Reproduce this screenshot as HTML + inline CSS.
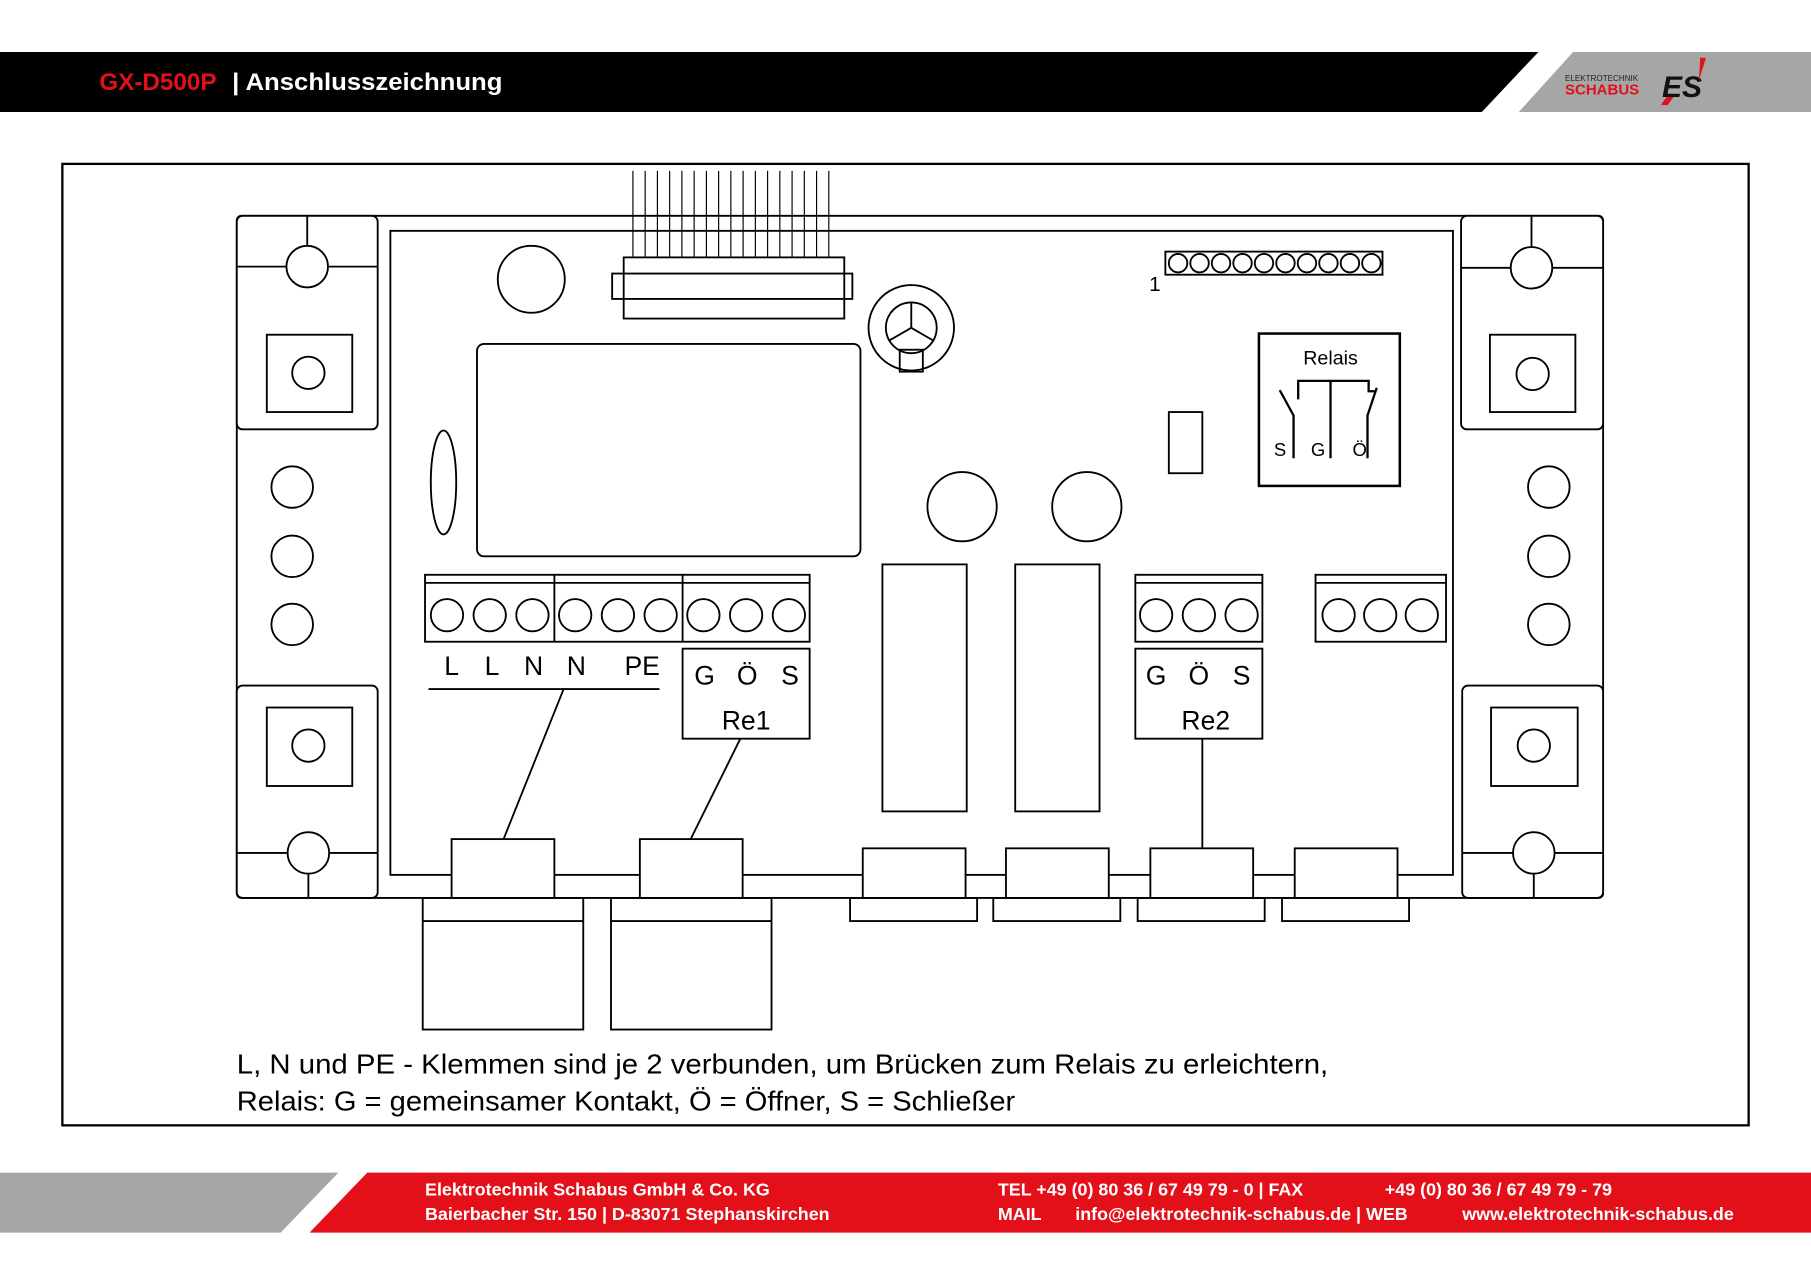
<!DOCTYPE html>
<html><head><meta charset="utf-8"><style>
html,body{margin:0;padding:0;background:#fff}
svg{display:block}
text{font-family:"Liberation Sans",sans-serif}
</style></head><body>
<svg width="1811" height="1280" viewBox="0 0 1568 1109" preserveAspectRatio="none" xmlns="http://www.w3.org/2000/svg">
<polygon points="0,45 1332,45 1283,97 0,97" fill="#000"/>
<polygon points="1362,45 1568,45 1568,97 1315,97" fill="#a6a6a6"/>
<text x="86" y="78" font-size="21" font-weight="bold" fill="#e3101a">GX-D500P</text>
<text x="201" y="78" font-size="21" font-weight="bold" fill="#fff" textLength="234" lengthAdjust="spacingAndGlyphs">| Anschlusszeichnung</text>
<text x="1355" y="70" font-size="7" fill="#222">ELEKTROTECHNIK</text>
<text x="1355" y="82" font-size="13" font-weight="bold" fill="#e3101a">SCHABUS</text>
<text x="1439" y="84" font-size="26" font-weight="bold" fill="#111" font-style="italic">ES</text>
<polygon points="1472,50 1477,50 1471,70" fill="#e3101a"/>
<polygon points="1443,84 1449,84 1444,91 1438,91" fill="#e3101a"/>
<polygon points="0,1016 293,1016 243,1068 0,1068" fill="#a6a6a6"/>
<polygon points="318,1016 1568,1016 1568,1068 268,1068" fill="#e3101a"/>
<g font-size="15.5" font-weight="bold" fill="#fff">
<text x="368" y="1036">Elektrotechnik Schabus GmbH &amp; Co. KG</text>
<text x="368" y="1057">Baierbacher Str. 150 | D-83071 Stephanskirchen</text>
<text x="864" y="1036">TEL  +49 (0) 80 36 / 67 49 79 - 0 | FAX</text>
<text x="1199" y="1036">+49 (0) 80 36 / 67 49 79 - 79</text>
<text x="864" y="1057">MAIL</text>
<text x="931" y="1057">info@elektrotechnik-schabus.de | WEB</text>
<text x="1266" y="1057">www.elektrotechnik-schabus.de</text>
</g>
<rect x="54" y="142" width="1460" height="833" fill="none" stroke="#000" stroke-width="2"/>
<g fill="none" stroke="#000" stroke-width="1.6">
<rect x="205" y="187" width="1183" height="591" rx="4"/>
<rect x="338" y="200" width="920" height="558" fill="#fff"/>
<rect x="205" y="187" width="122" height="185" rx="5" fill="#fff"/>
<line x1="205" y1="231" x2="248" y2="231"/><line x1="284" y1="231" x2="327" y2="231"/><line x1="266" y1="187" x2="266" y2="213"/>
<circle cx="266" cy="231" r="18"/>
<rect x="231" y="290" width="74" height="67"/><circle cx="267" cy="323" r="14"/>
<rect x="205" y="594" width="122" height="184" rx="5" fill="#fff"/>
<line x1="205" y1="739" x2="249" y2="739"/><line x1="285" y1="739" x2="327" y2="739"/><line x1="267" y1="757" x2="267" y2="778"/>
<circle cx="267" cy="739" r="18"/>
<rect x="231" y="613" width="74" height="68"/><circle cx="267" cy="646" r="14"/>
<rect x="1265" y="187" width="123" height="185" rx="5" fill="#fff"/>
<line x1="1265" y1="232" x2="1308" y2="232"/><line x1="1344" y1="232" x2="1388" y2="232"/><line x1="1326" y1="187" x2="1326" y2="214"/>
<circle cx="1326" cy="232" r="18"/>
<rect x="1290" y="290" width="74" height="67"/><circle cx="1327" cy="324" r="14"/>
<rect x="1266" y="594" width="122" height="184" rx="5" fill="#fff"/>
<line x1="1266" y1="739" x2="1310" y2="739"/><line x1="1346" y1="739" x2="1388" y2="739"/><line x1="1328" y1="757" x2="1328" y2="778"/>
<circle cx="1328" cy="739" r="18"/>
<rect x="1291" y="613" width="75" height="68"/><circle cx="1328" cy="646" r="14"/>
<circle cx="253" cy="422" r="18"/><circle cx="253" cy="482" r="18"/><circle cx="253" cy="541" r="18"/>
<circle cx="1341" cy="422" r="18"/><circle cx="1341" cy="482" r="18"/><circle cx="1341" cy="541" r="18"/>
<g stroke-width="1">
<line x1="548" y1="148" x2="548" y2="225"/><line x1="558.6" y1="148" x2="558.6" y2="225"/><line x1="569.2" y1="148" x2="569.2" y2="225"/><line x1="579.8" y1="148" x2="579.8" y2="225"/><line x1="590.4" y1="148" x2="590.4" y2="225"/><line x1="601" y1="148" x2="601" y2="225"/><line x1="611.6" y1="148" x2="611.6" y2="225"/><line x1="622.2" y1="148" x2="622.2" y2="225"/><line x1="632.8" y1="148" x2="632.8" y2="225"/><line x1="643.4" y1="148" x2="643.4" y2="225"/><line x1="654" y1="148" x2="654" y2="225"/><line x1="664.6" y1="148" x2="664.6" y2="225"/><line x1="675.2" y1="148" x2="675.2" y2="225"/><line x1="685.8" y1="148" x2="685.8" y2="225"/><line x1="696.4" y1="148" x2="696.4" y2="225"/><line x1="707" y1="148" x2="707" y2="225"/><line x1="717.6" y1="148" x2="717.6" y2="225"/>
</g>
<rect x="540" y="223" width="191" height="53" fill="#fff"/>
<rect x="530" y="237" width="208" height="22"/>
<circle cx="460" cy="242" r="29"/>
<circle cx="789" cy="284" r="37"/><circle cx="789" cy="284" r="22"/>
<line x1="789" y1="284" x2="789" y2="262"/><line x1="789" y1="284" x2="770" y2="295"/><line x1="789" y1="284" x2="808" y2="295"/>
<rect x="779" y="303" width="20" height="19"/>
<rect x="413" y="298" width="332" height="184" rx="6"/>
<ellipse cx="384" cy="418" rx="11" ry="45"/>
<rect x="1009" y="218" width="188" height="20"/>
<circle cx="1020" cy="228" r="8"/><circle cx="1038.6" cy="228" r="8"/><circle cx="1057.2" cy="228" r="8"/><circle cx="1075.8" cy="228" r="8"/><circle cx="1094.4" cy="228" r="8"/><circle cx="1113" cy="228" r="8"/><circle cx="1131.6" cy="228" r="8"/><circle cx="1150.2" cy="228" r="8"/><circle cx="1168.8" cy="228" r="8"/><circle cx="1187.4" cy="228" r="8"/>
<rect x="1090" y="289" width="122" height="132" stroke-width="2.2"/>
<g stroke-width="2">
<polyline points="1124,346 1124,330 1185,330 1185,339 1191,339"/>
<line x1="1152" y1="330" x2="1152" y2="397"/>
<polyline points="1108,338 1120,360 1120,397"/>
<polyline points="1192,336 1184,360 1184,397"/>
</g>
<rect x="1012" y="357" width="29" height="53"/>
<circle cx="833" cy="439" r="30"/><circle cx="941" cy="439" r="30"/>
<rect x="764" y="489" width="73" height="214"/><rect x="879" y="489" width="73" height="214"/>
<rect x="368" y="498" width="333" height="58"/><line x1="368" y1="505" x2="701" y2="505"/>
<line x1="480" y1="498" x2="480" y2="556"/><line x1="591" y1="498" x2="591" y2="556"/>
<circle cx="387" cy="533" r="14"/><circle cx="424" cy="533" r="14"/><circle cx="461" cy="533" r="14"/><circle cx="498" cy="533" r="14"/><circle cx="535" cy="533" r="14"/><circle cx="572" cy="533" r="14"/><circle cx="609" cy="533" r="14"/><circle cx="646" cy="533" r="14"/><circle cx="683" cy="533" r="14"/>
<line x1="371" y1="597" x2="571" y2="597"/>
<line x1="488" y1="597" x2="436" y2="727"/>
<rect x="591" y="562" width="110" height="78"/>
<line x1="641" y1="640" x2="598" y2="727"/>
<rect x="983" y="498" width="110" height="58"/><line x1="983" y1="505" x2="1093" y2="505"/>
<circle cx="1001" cy="533" r="14"/><circle cx="1038" cy="533" r="14"/><circle cx="1075" cy="533" r="14"/>
<rect x="983" y="562" width="110" height="78"/>
<line x1="1041" y1="640" x2="1041" y2="735"/>
<rect x="1139" y="498" width="113" height="58"/><line x1="1139" y1="505" x2="1252" y2="505"/>
<circle cx="1159" cy="533" r="14"/><circle cx="1195" cy="533" r="14"/><circle cx="1231" cy="533" r="14"/>
<rect x="391" y="727" width="89" height="51" fill="#fff"/>
<rect x="366" y="778" width="139" height="114"/><line x1="366" y1="798" x2="505" y2="798"/>
<rect x="554" y="727" width="89" height="51" fill="#fff"/>
<rect x="529" y="778" width="139" height="114"/><line x1="529" y1="798" x2="668" y2="798"/>
<rect x="747" y="735" width="89" height="43" fill="#fff"/><rect x="736" y="778" width="110" height="20"/>
<rect x="871" y="735" width="89" height="43" fill="#fff"/><rect x="860" y="778" width="110" height="20"/>
<rect x="996" y="735" width="89" height="43" fill="#fff"/><rect x="985" y="778" width="110" height="20"/>
<rect x="1121" y="735" width="89" height="43" fill="#fff"/><rect x="1110" y="778" width="110" height="20"/>
</g>
<g fill="#000">
<text x="995" y="252" font-size="18">1</text>
<text x="1152" y="316" font-size="17" text-anchor="middle">Relais</text>
<text x="1103" y="395" font-size="16">S</text><text x="1135" y="395" font-size="16">G</text><text x="1171" y="395" font-size="16">Ö</text>
<g font-size="23" text-anchor="middle">
<text x="391" y="585">L</text><text x="426" y="585">L</text><text x="462" y="585">N</text><text x="499" y="585">N</text><text x="556" y="585">PE</text>
<text x="610" y="593">G</text><text x="647" y="593">Ö</text><text x="684" y="593">S</text>
<text x="646" y="632">Re1</text>
<text x="1001" y="593">G</text><text x="1038" y="593">Ö</text><text x="1075" y="593">S</text>
<text x="1044" y="632">Re2</text>
</g>
<text x="205" y="930" font-size="24" textLength="945" lengthAdjust="spacingAndGlyphs">L, N und PE - Klemmen sind je 2 verbunden, um Brücken zum Relais zu erleichtern,</text>
<text x="205" y="962" font-size="24" textLength="674" lengthAdjust="spacingAndGlyphs">Relais: G = gemeinsamer Kontakt, Ö = Öffner, S = Schließer</text>
</g>
</svg>
</body></html>
